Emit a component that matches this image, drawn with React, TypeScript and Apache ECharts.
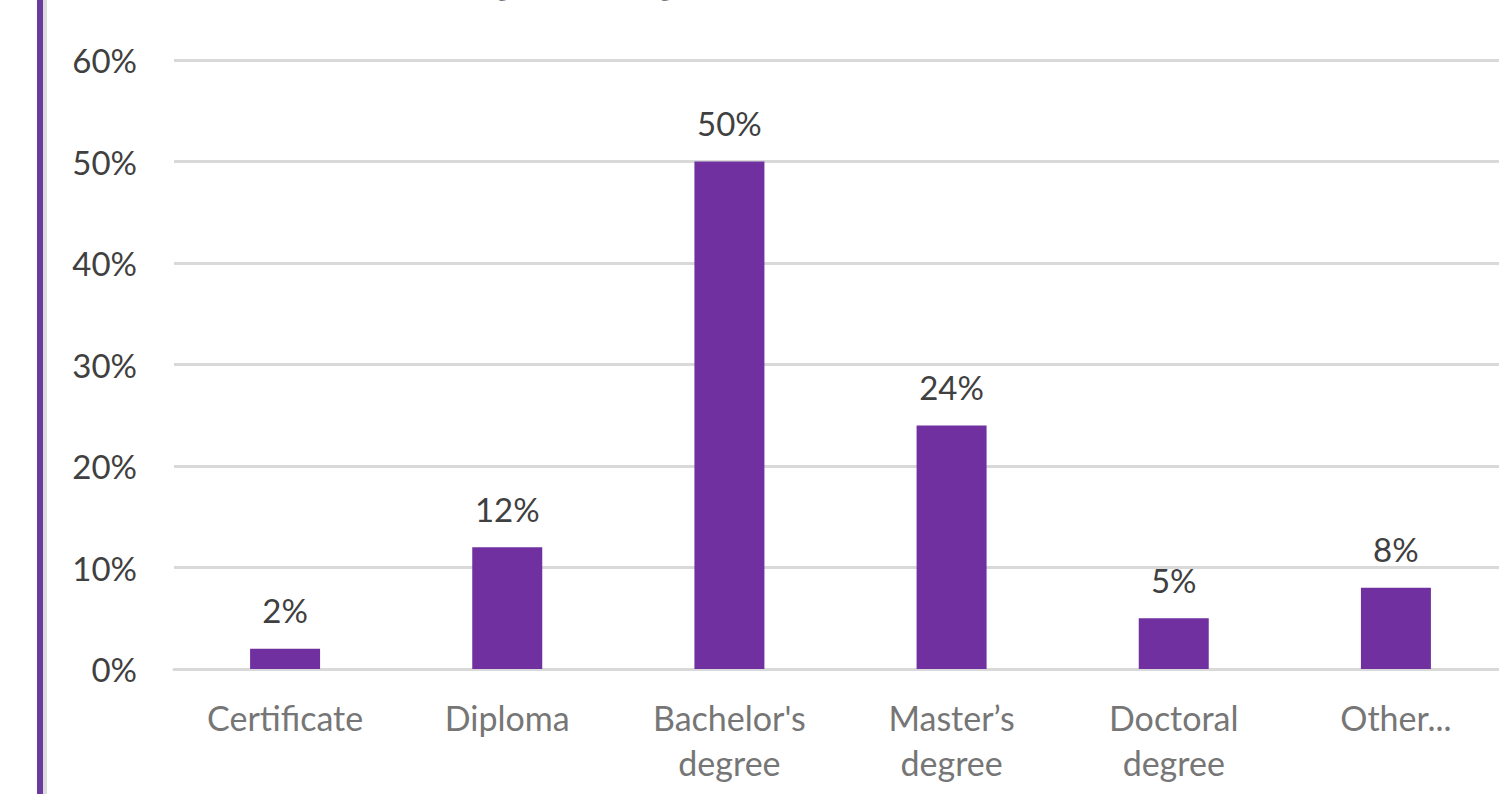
import React, { useEffect, useRef } from "react";
import * as echarts from "echarts";

const categories = ["Certificate", "Diploma", "Bachelor's\ndegree", "Master’s\ndegree", "Doctoral\ndegree", "Other..."];
const values = [2, 12, 50, 24, 5, 8];
const titleText = "Highest degree completed";

export default function App() {
  const ref = useRef<HTMLDivElement>(null);
  useEffect(() => {
    document.body.style.margin = "0";
    const chart = echarts.init(ref.current!, null, { renderer: "svg" });
    chart.setOption({
      animation: false,
      backgroundColor: "#ffffff",
      textStyle: { fontFamily: "Lato" },
      grid: {
        left: 174,
        width: 1333,
        top: 60,
        bottom: 125,
        containLabel: false,
        outerBoundsMode: "none",
      },
      xAxis: {
        type: "category",
        data: categories,
        axisTick: { show: false },
        axisLine: { show: true, lineStyle: { color: "#d9d9d9", width: 3 } },
        axisLabel: {
          color: "#767676",
          fontSize: 34,
          fontFamily: "Lato",
          lineHeight: 45,
          margin: 26,
          interval: 0,
        },
      },
      yAxis: {
        type: "value",
        min: 0,
        max: 60,
        interval: 10,
        axisLine: { show: false },
        axisTick: { show: false },
        splitLine: { lineStyle: { color: "#d9d9d9", width: 3 } },
        axisLabel: {
          formatter: "{value}%",
          color: "#404040",
          fontSize: 33,
          fontFamily: "Lato",
          margin: 37,
        },
      },
      series: [
        {
          type: "bar",
          data: values,
          barWidth: 70,
          itemStyle: { color: "#7030a0" },
          label: {
            show: true,
            position: "top",
            distance: 22,
            formatter: "{c}%",
            color: "#404040",
            fontSize: 33,
            fontFamily: "Lato",
          },
        },
      ],
      graphic: [
        { type: "rect", left: 37, top: 0, shape: { width: 6, height: 794 }, style: { fill: "#6a3a9c" } },
        { type: "rect", left: 43, top: 0, shape: { width: 4, height: 794 }, style: { fill: "#dcdcdc" } },
        {
          type: "text",
          x: 448,
          y: -24,
          style: {
            text: titleText,
            font: "bold 43px Lato",
            fill: "#000000",
            align: "left",
            verticalAlign: "middle",
          },
        },
      ],
    });
    return () => chart.dispose();
  }, []);
  return <div ref={ref} style={{ position: "absolute", left: 0, top: 0, width: 1499, height: 794 }} />;
}
